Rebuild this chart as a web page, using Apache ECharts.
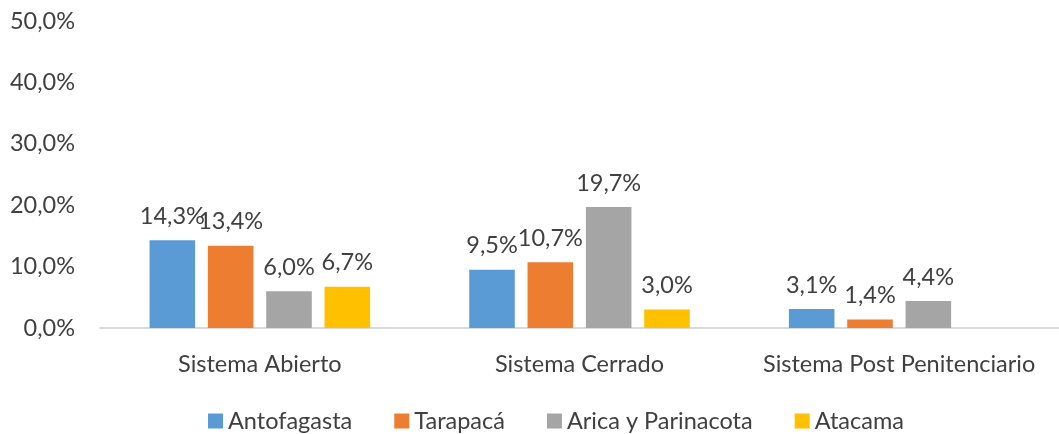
<!DOCTYPE html>
<html>
<head>
<meta charset="utf-8">
<script src="https://cdn.jsdelivr.net/npm/echarts@6/dist/echarts.min.js"></script>
<style>
  html, body { margin: 0; padding: 0; background: #fff; }
  #chart { width: 1059px; height: 434px; }
</style>
</head>
<body>
<div id="chart"></div>
<script>
// Categories and per-region shares (percent)
const categories = ['Sistema Abierto', 'Sistema Cerrado', 'Sistema Post Penitenciario'];
const antofagasta = [14.3, 9.5, 3.1];
const tarapaca = [13.4, 10.7, 1.4];
const aricaParinacota = [6.0, 19.7, 4.4];
const atacama = [6.7, 3.0, null];
const seriesNames = ['Antofagasta', 'Tarapacá', 'Arica y Parinacota', 'Atacama'];
const colors = ['#5b9bd5', '#ed7d31', '#a5a5a5', '#ffc000'];

const FONT = 'Lato, "Open Sans", sans-serif';
const FS = 23.5;
const fmt = v => v.toFixed(1).replace('.', ',') + '%';

const chart = echarts.init(document.getElementById('chart'));

const makeSeries = (name, data, color) => ({
  name,
  type: 'bar',
  data,
  barGap: '28%',
  barCategoryGap: '31%',
  itemStyle: { color },
  label: {
    show: true,
    position: 'top',
    distance: 12,
    color: '#404040',
    fontFamily: FONT,
    fontSize: FS,
    formatter: p => (p.value == null ? '' : fmt(p.value))
  }
});

chart.setOption({
  animation: false,
  color: colors,
  grid: { left: 100, right: -10, top: 21, bottom: 106, containLabel: false },
  legend: {
    top: 404,
    left: 203,
    itemWidth: 15,
    itemHeight: 15,
    itemGap: 42,
    icon: 'rect',
    textStyle: { color: '#404040', fontFamily: FONT, fontSize: FS },
    data: seriesNames
  },
  xAxis: {
    type: 'category',
    data: categories,
    axisLine: { lineStyle: { color: '#d9d9d9', width: 2 } },
    axisTick: { show: false },
    axisLabel: {
      color: '#404040',
      fontFamily: FONT,
      fontSize: FS,
      margin: 24,
      interval: 0,
      hideOverlap: false
    }
  },
  yAxis: {
    type: 'value',
    min: 0,
    max: 50,
    interval: 10,
    splitLine: { show: false },
    axisLine: { show: false },
    axisTick: { show: false },
    axisLabel: {
      color: '#404040',
      fontFamily: FONT,
      fontSize: FS,
      margin: 25,
      formatter: v => fmt(v)
    }
  },
  series: [
    makeSeries(seriesNames[0], antofagasta, colors[0]),
    makeSeries(seriesNames[1], tarapaca, colors[1]),
    makeSeries(seriesNames[2], aricaParinacota, colors[2]),
    makeSeries(seriesNames[3], atacama, colors[3])
  ]
});
</script>
</body>
</html>
